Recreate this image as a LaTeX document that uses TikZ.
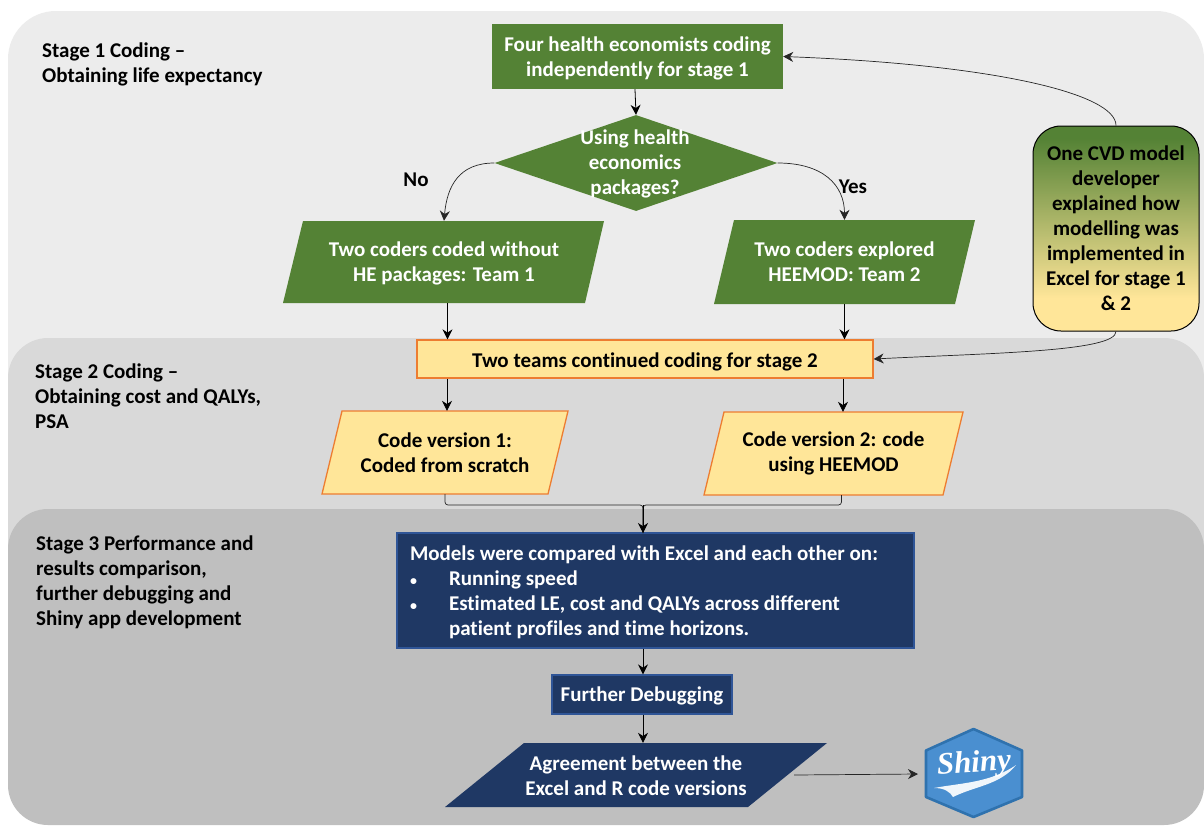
\documentclass[tikz,border=0pt]{standalone}
\usepackage{fontspec}
\setmainfont{Carlito}[RawFeature={-liga}]
\newfontfamily\shinyfont{Liberation Serif}
\usetikzlibrary{arrows.meta,shapes.geometric,calc}
\definecolor{bandA}{HTML}{ECECEC}
\definecolor{bandB}{HTML}{D9D9D9}
\definecolor{bandC}{HTML}{BFBFBF}
\definecolor{hgreen}{HTML}{548235}
\definecolor{hyellow}{HTML}{FFE699}
\definecolor{horange}{HTML}{ED7D31}
\definecolor{hnavy}{HTML}{1F3864}
\definecolor{hnavyedge}{HTML}{2F5597}
\definecolor{shinyfill}{HTML}{4A8FD0}
\definecolor{shinyedge}{HTML}{2F72AE}
\pgfdeclareverticalshading{cvdshade}{100bp}{color(0bp)=(hyellow); color(33bp)=(hyellow); color(72bp)=(hgreen); color(100bp)=(hgreen)}
\newcommand{\nudge}[2]{\raisebox{-#1}[\height][\depth]{#2}}
\newcommand{\paraNode}[9]{%
  \path[#2shape] (#3,#7) -- (#4,#7) -- (#6,#8) -- (#5,#8) -- cycle;
  \node[#2text, minimum height={(#8-#7)*1pt}, minimum width={(#4-#3)*1pt}] (#1) at ({(#3+#6)/2},{(#7+#8)/2}) {#9};
}
\tikzset{
  x=1pt,y=-1pt,
  base/.style={font=\fontsize{21}{25}\selectfont\bfseries, inner sep=0pt, align=center},
  stagelabel/.style={base, anchor=north west, align=left, text=black},
  greenbox/.style={base, fill=hgreen, text=white},
  yellowbox/.style={base, fill=hyellow, draw=horange, line width=1.3pt, text=black},
  navybox/.style={base, fill=hnavy, draw=hnavyedge, line width=1.2pt, text=white},
  greenshape/.style={fill=hgreen},
  greentext/.style={base, text=white},
  yellowshape/.style={fill=hyellow, draw=horange, line width=1.3pt},
  yellowtext/.style={base, text=black},
  navyshape/.style={fill=hnavy},
  navytext/.style={base, text=white},
  link/.style={draw=black, line width=0.8pt, -{Stealth[length=10pt,width=10pt]}},
  thinlink/.style={draw=black!85, line width=0.7pt, -{Stealth[length=10pt,width=10pt]}},
  plainlink/.style={draw=black!85, line width=0.7pt, rounded corners=3pt},
}
\begin{document}
\begin{tikzpicture}
\useasboundingbox (0,0) rectangle (1204,825);
\fill[white] (0,0) rectangle (1204,825);
% bands
\fill[bandA, rounded corners=48pt] (8,11) rectangle (1204,420);
\fill[bandB, rounded corners=40pt] (8,338) rectangle (1204,600);
\fill[bandC, rounded corners=40pt] (8,509) rectangle (1204,825);
% stage labels
\node[stagelabel] (s1) at (42,42.5) {Stage 1 Coding --\\Obtaining life expectancy};
\node[stagelabel] (s2) at (35,364) {Stage 2 Coding --\\Obtaining cost and QALYs,\\PSA};
\node[stagelabel] (s3) at (36,535.5) {Stage 3 Performance and\\results comparison,\\further debugging and\\Shiny app development};
% stage 1
\node[greenbox, minimum width=291pt, minimum height=65pt] (top) at (637.5,56.5) {\nudge{2pt}{\begin{tabular}{@{}c@{}}Four health economists coding\\independently for stage 1\end{tabular}}};
\node[diamond, fill=hgreen, minimum width=283pt, minimum height=96pt, aspect=2.95, inner sep=0pt] (dec) at (636,163) {};
\node[base, text=white] (dect) at (635,164) {Using health\\economics\\packages?};
\paraNode{pL}{green}{303}{604}{283}{585}{221}{303}{\nudge{1.5pt}{\begin{tabular}{@{}c@{}}Two coders coded without\\HE packages: Team 1\end{tabular}}}
\paraNode{pR}{green}{734}{975}{714}{955}{220}{304}{\nudge{1.5pt}{\begin{tabular}{@{}c@{}}Two coders explored\\HEEMOD: Team 2\end{tabular}}}
\node[base, text=black] (no) at (416,180) {No};
\node[base, text=black] (yes) at (853,187) {Yes};
% stage 2
\node[yellowbox, minimum width=456pt, minimum height=38pt] (teams) at (645,359) {\nudge{3pt}{Two teams continued coding for stage 2}};
\paraNode{vA}{yellow}{342}{568}{322}{548}{411}{494}{Code version 1:\\Coded from scratch}
\paraNode{vB}{yellow}{724}{963}{704}{943}{412}{495}{Code version 2: code\\using HEEMOD}
% CVD
\node[base, text=black, rounded corners=28pt, draw=black, line width=1pt, shading=cvdshade, minimum width=166pt, minimum height=205pt] (cvd) at (1116,228.5) {One CVD model\\developer\\explained how\\modelling was\\implemented in\\Excel for stage 1\\\& 2};
% stage 3
\node[navybox, minimum width=517pt, minimum height=115pt] (cmp) at (655.5,590.5) {\nudge{1.5pt}{%
  \begin{minipage}{491pt}\raggedright
  Models were compared with Excel and each other on:\\
  \makebox[39pt][l]{\fontsize{14}{14}\selectfont •}Running speed\\
  \makebox[39pt][l]{\fontsize{14}{14}\selectfont •}Estimated LE, cost and QALYs across different\\
  \hspace*{39pt}patient profiles and time horizons.
  \end{minipage}}};
\node[navybox, minimum width=180pt, minimum height=39pt] (dbg) at (642,694.5) {\nudge{1pt}{Further Debugging}};
\paraNode{agr}{navy}{524}{827}{445}{748}{743}{807}{\nudge{3pt}{\begin{tabular}{@{}c@{}}Agreement between the\\Excel and R code versions\end{tabular}}}
% shiny logo
\coordinate (hexin) at (918,774);
\draw[fill=shinyfill, draw=shinyedge, line width=2.6pt, line join=round] (973.5,729) -- (1022,750.5) -- (1022,797) -- (973.5,817) -- (926,797) -- (926,750.5) -- cycle;
\fill[white!92!shinyfill] (934,788) .. controls (960,783) and (990,783) .. (1016,765) .. controls (1000,785) and (975,786) .. (953,797) .. controls (950,792) and (945,788) .. (934,788) -- cycle;
\node[font=\fontsize{31}{31}\selectfont\shinyfont\bfseries\itshape, text=white, inner sep=0pt, rotate=4] (shiny) at (974,765) {Shiny};
% connectors
\coordinate (merge) at (643,505);
\coordinate (cmpin) at (643,533);
\draw[link] (top.south -| dect) -- (dec.north);
\draw[thinlink] (dec.west) .. controls +(-35,0) and +(3,-35) .. (pL.north);
\draw[thinlink] (dec.east) .. controls +(45,0) and +(0,-35) .. (pR.north);
\draw[link] ([xshift=3.5pt]pL.south) -- ([xshift=3.5pt]pL.south |- teams.north);
\draw[link] (pR.south) -- (pR.south |- teams.north);
\draw[link] (teams.south -| vA.north) ++(2,0) -- ([xshift=2pt]vA.north);
\draw[link] (teams.south -| vB.north) ++(9.5,0) -- ([xshift=9.5pt]vB.north);
\draw[plainlink] (vA.south) |- (merge) -- (cmpin);
\draw[plainlink] ([xshift=8pt]vB.south) |- (merge) -- (cmpin);
\draw[link] (merge) -- (cmpin);
\draw[link] (cmp.south -| dbg) ++(1,0) -- ([xshift=1pt]dbg.north);
\draw[link] ([xshift=1pt]dbg.south) -- ([xshift=1pt]dbg.south |- agr.north);
\draw[thinlink] ([xshift=158pt]agr.center) -- (hexin);
\draw[thinlink] (cvd.north) .. controls +(0,-32) and +(210,8) .. (top.east);
\draw[thinlink] (cvd.south) .. controls +(0,20) and +(120,-6) .. (teams.east);
\end{tikzpicture}
\end{document}
